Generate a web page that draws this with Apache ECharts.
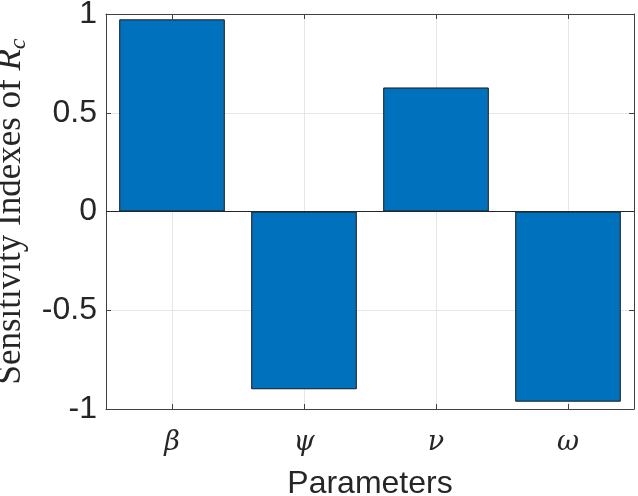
<!DOCTYPE html>
<html>
<head>
<meta charset="utf-8">
<script src="https://cdn.jsdelivr.net/npm/echarts@6/dist/echarts.min.js"></script>
<style>html,body{margin:0;padding:0;background:#fff}#c{width:638px;height:496px}</style>
</head>
<body>
<div id="c"></div>
<script>
const categories = ['β', 'ψ', 'ν', 'ω'];
const sensitivity = [0.973, -0.90, 0.628, -0.963];
const yTicks = [-1, -0.5, 0, 0.5, 1];

const axisColor = '#404040';
const chart = echarts.init(document.getElementById('c'));
chart.setOption({
  animation: false,
  backgroundColor: '#fff',
  grid: { left: 106, right: 4, top: 14, bottom: 87, containLabel: false, outerBoundsMode: 'none' },
  xAxis: [{
    type: 'category',
    data: categories,
    position: 'bottom',
    boundaryGap: true,
    name: 'Parameters',
    nameLocation: 'middle',
    nameGap: 59,
    nameTextStyle: { fontFamily: 'Liberation Sans', fontSize: 32, color: '#262626' },
    axisLine: { show: true, onZero: false, lineStyle: { color: axisColor, width: 1 } },
    axisTick: { show: true, inside: true, length: 5, alignWithLabel: true, lineStyle: { color: axisColor } },
    axisLabel: { margin: 20, fontFamily: 'DejaVu Serif', fontStyle: 'italic', fontSize: 27, color: '#262626' },
    splitLine: { show: true, alignWithLabel: true, lineStyle: { color: '#e6e6e6', width: 1 } }
  }, {
    type: 'category',
    data: categories,
    position: 'top',
    boundaryGap: true,
    axisLine: { show: true, onZero: false, lineStyle: { color: axisColor, width: 1 } },
    axisTick: { show: true, inside: true, length: 5, alignWithLabel: true, lineStyle: { color: axisColor } },
    axisLabel: { show: false },
    splitLine: { show: false }
  }],
  yAxis: [{
    type: 'value',
    min: -1, max: 1, interval: 0.5,
    position: 'left',
    name: 'Sensitivity Indexes of {i|R}{s|c}',
    nameLocation: 'middle',
    nameGap: 67,
    nameTextStyle: {
      fontFamily: 'Liberation Serif', fontSize: 35, color: '#262626', lineHeight: 40,
      rich: {
        i: { fontFamily: 'Liberation Serif', fontStyle: 'italic', fontSize: 35, lineHeight: 40, color: '#262626' },
        s: { fontFamily: 'Liberation Serif', fontStyle: 'italic', fontSize: 24, lineHeight: 22, verticalAlign: 'bottom', color: '#262626' }
      }
    },
    axisLine: { show: true, lineStyle: { color: axisColor, width: 1 } },
    axisTick: { show: true, inside: true, length: 5, lineStyle: { color: axisColor } },
    axisLabel: {
      margin: 9, fontFamily: 'Liberation Sans', fontSize: 32, color: '#262626',
      formatter: v => { const t = yTicks.find(x => Math.abs(x - v) < 1e-9); return String(t); }
    },
    splitLine: { show: true, lineStyle: { color: '#e6e6e6', width: 1 } }
  }, {
    type: 'value',
    min: -1, max: 1, interval: 0.5,
    position: 'right',
    axisLine: { show: true, lineStyle: { color: axisColor, width: 1 } },
    axisTick: { show: true, inside: true, length: 5, lineStyle: { color: axisColor } },
    axisLabel: { show: false },
    splitLine: { show: false }
  }],
  series: [{
    type: 'bar',
    data: sensitivity,
    xAxisIndex: 0,
    yAxisIndex: 0,
    barCategoryGap: '20%',
    itemStyle: { color: '#0072BD', borderColor: '#1a1a1a', borderWidth: 1 },
    markLine: {
      silent: true,
      symbol: 'none',
      label: { show: false },
      lineStyle: { color: '#262626', type: 'solid', width: 1 },
      data: [{ yAxis: 0 }]
    }
  }]
});
</script>
</body>
</html>
